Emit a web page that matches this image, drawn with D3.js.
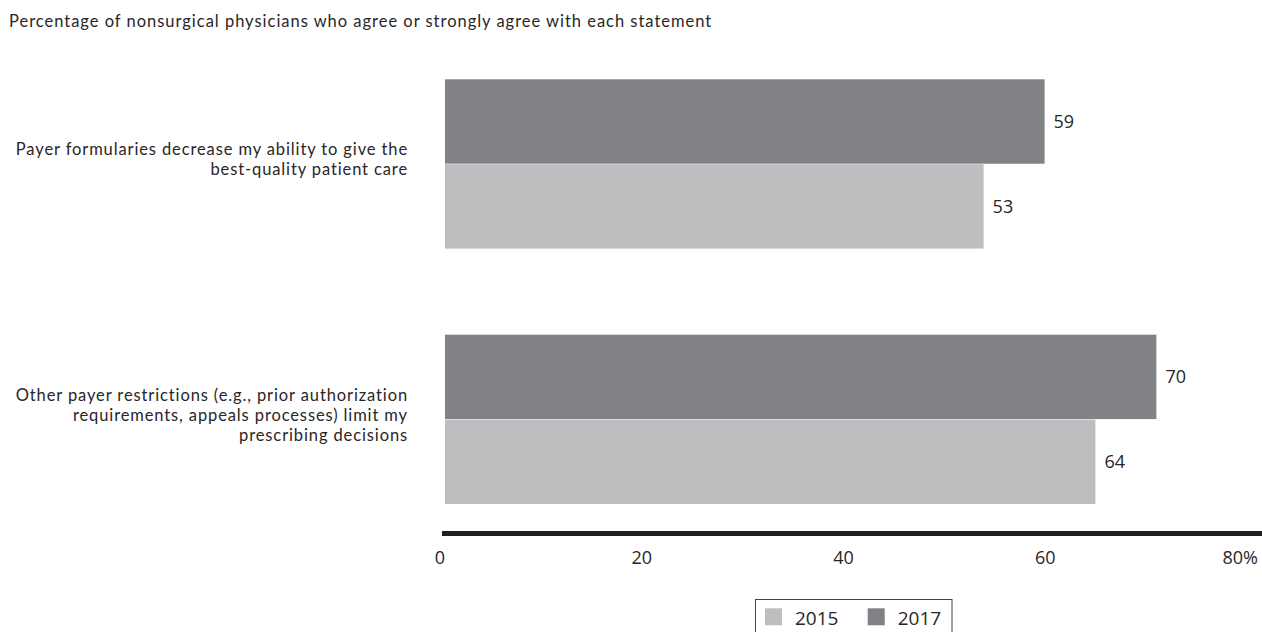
<!DOCTYPE html>
<html>
<head>
<meta charset="utf-8">
<script src="https://cdn.jsdelivr.net/npm/d3@7"></script>
<style>
  html, body { margin: 0; padding: 0; background: #ffffff; }
  svg { display: block; font-family: "Open Sans", "Noto Sans", sans-serif; }
  .lbl { font-family: Lato, "Open Sans", sans-serif; }
</style>
</head>
<body>
<svg id="chart" width="1262" height="632"></svg>
<script>
const title = "Percentage of nonsurgical physicians who agree or strongly agree with each statement";
const categories = [
  "Payer formularies decrease my ability to give the best-quality patient care",
  "Other payer restrictions (e.g., prior authorization requirements, appeals processes) limit my prescribing decisions"
];
const categoryLines = [
  ["Payer formularies decrease my ability to give the", "best-quality patient care"],
  ["Other payer restrictions (e.g., prior authorization", "requirements, appeals processes) limit my", "prescribing decisions"]
];
const seriesNames = ["2015", "2017"];
const values2015 = [53, 64];
const values2017 = [59, 70];
const tickValues = [0, 20, 40, 60, 80];
const tickLabels = ["0", "20", "40", "60", "80%"];
const seriesColors = ["#bcbec0", "#808285"];

const textColor = "#2a2627";
const svg = d3.select("#chart");

const rows = [];
categories.forEach((c, i) => {
  rows.push({ cat: c, series: "2017", value: values2017[i] });
  rows.push({ cat: c, series: "2015", value: values2015[i] });
});
const color = d3.scaleOrdinal().domain(seriesNames).range(seriesColors);

const x = d3.scaleLinear().domain([0, 80]).range([445, 1258]);
const xTick = d3.scaleLinear().domain([0, 80]).range([440, 1247]);
const y0 = d3.scaleBand().domain(categories).range([79.3, 504]).paddingInner(0.337).paddingOuter(0);
const y1 = d3.scaleBand().domain(["2017", "2015"]).range([0, y0.bandwidth()]).paddingInner(0.006);

// title
svg.append("text")
  .attr("class", "lbl")
  .attr("x", 9).attr("y", 27)
  .attr("fill", textColor)
  .style("font-size", "16.5px")
  .style("letter-spacing", "0.98px")
  .text(title);

// bars
svg.append("g").selectAll("rect").data(rows).join("rect")
  .attr("x", x(0))
  .attr("y", d => y0(d.cat) + y1(d.series))
  .attr("width", d => x(d.value) - x(0))
  .attr("height", y1.bandwidth())
  .attr("fill", d => color(d.series));

// value labels
svg.append("g").selectAll("text").data(rows).join("text")
  .attr("x", d => x(d.value) + 9)
  .attr("y", d => y0(d.cat) + y1(d.series) + y1.bandwidth() / 2)
  .attr("dy", "0.36em")
  .attr("fill", textColor)
  .style("font-size", "18px")
  .text(d => d.value);

// category labels (one text per line)
categories.forEach((c, i) => {
  const lines = categoryLines[i];
  const cy = y0(c) + y0.bandwidth() / 2;
  svg.append("g").selectAll("text").data(lines).join("text")
    .attr("class", "lbl")
    .attr("text-anchor", "end")
    .attr("fill", textColor)
    .style("font-size", "16.5px")
    .style("letter-spacing", "0.88px")
    .attr("x", 408)
    .attr("y", (ln, j) => cy + (j - (lines.length - 1) / 2) * 20 + 1.5)
    .text(ln => ln);
});

// axis line
svg.append("line")
  .attr("x1", x(0) - 3).attr("x2", 1262)
  .attr("y1", 533.5).attr("y2", 533.5)
  .attr("stroke", "#231f20").attr("stroke-width", 5);

// tick labels
svg.append("g").selectAll("text").data(tickValues).join("text")
  .attr("x", (d, i) => i === tickValues.length - 1 ? x(d) : xTick(d))
  .attr("y", 563.5)
  .attr("text-anchor", (d, i) => i === tickValues.length - 1 ? "end" : "middle")
  .attr("fill", textColor)
  .style("font-size", "18px")
  .text((d, i) => tickLabels[i]);

// legend
const legend = svg.append("g");
legend.append("rect")
  .attr("x", 755.5).attr("y", 599.5)
  .attr("width", 196.5).attr("height", 45)
  .attr("fill", "none").attr("stroke", "#444").attr("stroke-width", 1);
const legendItems = legend.selectAll("g.item").data(seriesNames).join("g")
  .attr("class", "item")
  .attr("transform", (d, i) => `translate(${765 + i * 102.7},608.3)`);
legendItems.append("rect")
  .attr("width", 17).attr("height", 17)
  .attr("fill", d => color(d));
legendItems.append("text")
  .attr("x", 30).attr("y", 17)
  .attr("fill", textColor)
  .style("font-size", "19px")
  .text(d => d);
</script>
</body>
</html>
